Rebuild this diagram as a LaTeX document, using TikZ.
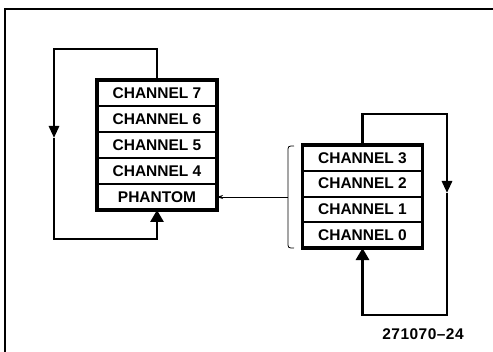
\documentclass[tikz,border=0pt]{standalone}
\usepackage{fontspec}
\setmainfont{Liberation Sans}
\usetikzlibrary{arrows.meta,positioning}
\tikzset{
  row/.style={draw, line width=2pt, outer sep=0pt, minimum width=120pt, inner sep=0pt, font=\bfseries\fontsize{15.5}{16}\selectfont},
  lrow/.style={row, minimum height=26pt},
  rrow/.style={row, minimum height=25.75pt},
  outer/.style={line width=3.2pt},
  loopline/.style={line width=2.8pt},
  bigtip/.style={-{Triangle[width=13pt,length=12pt]}},
  midtip/.style={-{Triangle[width=10pt,length=12pt]}},
  thin/.style={line width=0.8pt}
}
\begin{document}
\begin{tikzpicture}[x=1pt,y=-1pt]
\useasboundingbox (0,0) rectangle (493,352);
% frame
\draw[line width=1.5pt] (5,352) -- (5,9) -- (493,9);
% left stack
\node[lrow] (l7) at (157,93) {CHANNEL 7};
\node[lrow, anchor=north] (l6) at (l7.south) {CHANNEL 6};
\node[lrow, anchor=north] (l5) at (l6.south) {CHANNEL 5};
\node[lrow, anchor=north] (l4) at (l5.south) {CHANNEL 4};
\node[lrow, anchor=north] (lp) at (l4.south) {PHANTOM};
\draw[outer] (l7.north west) rectangle (lp.south east);
% right stack
\node[rrow] (r3) at (362.5,157.9) {CHANNEL 3};
\node[rrow, anchor=north] (r2) at (r3.south) {CHANNEL 2};
\node[rrow, anchor=north] (r1) at (r2.south) {CHANNEL 1};
\node[rrow, anchor=north] (r0) at (r1.south) {CHANNEL 0};
\draw[outer] (r3.north west) rectangle (r0.south east);
% left loop
\coordinate (lc1) at (54,49);
\coordinate (lm) at (54,138);
\coordinate (lc2) at (54,239);
\draw[loopline, midtip] (l7.north) |- (lc1) -- (lm);
\draw[loopline, bigtip] (lm) -- (lc2) -| (lp.south);
% right loop
\coordinate (rc1) at (447,114);
\coordinate (rm) at (447,193);
\coordinate (rc2) at (447,315);
\draw[loopline, midtip] (r3.north) |- (rc1) -- (rm);
\draw[loopline, bigtip] (rm) -- (rc2) -| (r0.south);
% bracket
\coordinate (bt) at (294,146);
\coordinate (bb) at (294,248);
\coordinate (br) at (288,197);
\draw[thin] (bt) .. controls (288,146) .. (288,152) -- (288,242) .. controls (288,248) .. (bb);
\draw[thin, -{Stealth[length=6pt,width=4pt]}] (br) -- (br -| lp.east);
% figure label
\node[font=\bfseries\fontsize{15.5}{16}\selectfont\addfontfeature{LetterSpace=3}] (fig) at (423,334) {271070--24};
\end{tikzpicture}
\end{document}
